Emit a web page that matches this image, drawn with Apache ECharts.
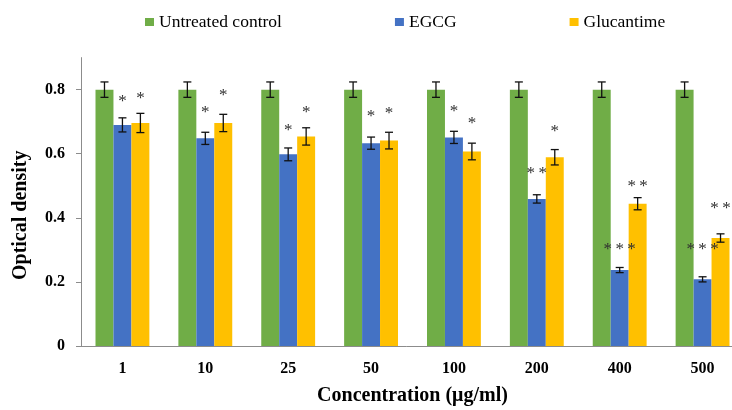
<!DOCTYPE html>
<html>
<head>
<meta charset="utf-8">
<script src="https://cdn.jsdelivr.net/npm/echarts@6/dist/echarts.min.js"></script>
<style>
html,body{margin:0;padding:0;background:#fff;}
#chart{width:732px;height:410px;}
</style>
</head>
<body>
<div id="chart"></div>
<script>
const categories = ['1', '10', '25', '50', '100', '200', '400', '500'];
const seriesNames = ['Untreated control', 'EGCG', 'Glucantime'];
const controlValues = [0.8, 0.8, 0.8, 0.8, 0.8, 0.8, 0.8, 0.8];
const controlErr = [0.024, 0.024, 0.024, 0.024, 0.024, 0.024, 0.024, 0.024];
const egcgValues = [0.69, 0.648, 0.598, 0.633, 0.651, 0.459, 0.237, 0.208];
const egcgErr = [0.022, 0.019, 0.02, 0.019, 0.019, 0.013, 0.008, 0.008];
const glucValues = [0.696, 0.696, 0.654, 0.641, 0.607, 0.589, 0.444, 0.337];
const glucErr = [0.03, 0.027, 0.027, 0.026, 0.026, 0.024, 0.019, 0.013];
const egcgMarks = ['*', '*', '*', '*', '*', '**', '***', '***'];
const glucMarks = ['*', '*', '*', '*', '*', '*', '**', '**'];
const egcgMarkY = [0.773, 0.738, 0.683, 0.727, 0.742, 0.548, 0.311, 0.311];
const glucMarkY = [0.783, 0.790, 0.739, 0.735, 0.703, 0.680, 0.508, 0.437];
const yTicks = [0, 0.2, 0.4, 0.6, 0.8];

const colors = ['#70AD47', '#4472C4', '#FFC000'];
const CAT_GAP = 0.35;
const serif = '"Liberation Serif", "Times New Roman", serif';

function barOffset(api, k) {
  const band = api.size([1, 0])[0];
  const bw = band * (1 - CAT_GAP) / 3;
  return k * bw;
}

function errorSeries(values, errs, k) {
  return {
    type: 'custom',
    silent: true,
    z: 10,
    renderItem: function (params, api) {
      const i = api.value(0);
      const v = api.value(1);
      const e = api.value(2);
      const x = api.coord([i, v])[0] + barOffset(api, k);
      const hi = api.coord([i, v + e])[1];
      const lo = api.coord([i, v - e])[1];
      const w = 4;
      const st = { stroke: '#111', lineWidth: 1.3 };
      return {
        type: 'group',
        children: [
          { type: 'line', shape: { x1: x, y1: hi, x2: x, y2: lo }, style: st },
          { type: 'line', shape: { x1: x - w, y1: hi, x2: x + w, y2: hi }, style: st },
          { type: 'line', shape: { x1: x - w, y1: lo, x2: x + w, y2: lo }, style: st }
        ]
      };
    },
    data: values.map(function (v, i) { return [i, v, errs[i]]; })
  };
}

function markSeries(marks, ys, k) {
  return {
    type: 'custom',
    silent: true,
    z: 11,
    renderItem: function (params, api) {
      const i = api.value(0);
      const p = api.coord([i, api.value(1)]);
      const x = p[0] + barOffset(api, k);
      return {
        type: 'text',
        style: {
          x: x,
          y: p[1] + 3,
          text: marks[params.dataIndex].split('').join('\u2009'),
          font: '17px ' + serif,
          fill: '#303030',
          textAlign: 'center',
          textVerticalAlign: 'middle'
        }
      };
    },
    data: ys.map(function (v, i) { return [i, v]; })
  };
}

const chart = echarts.init(document.getElementById('chart'), null, { renderer: 'canvas' });
chart.setOption({
  animation: false,
  backgroundColor: '#fff',
  color: colors,
  legend: {
    data: seriesNames,
    left: 140,
    top: 8,
    itemWidth: 9,
    itemHeight: 8,
    itemGap: 113,
    icon: 'rect',
    textStyle: { fontFamily: serif, fontSize: 17.5, color: '#000' }
  },
  grid: { left: 81, right: -12, top: 57.6, bottom: 64, containLabel: false, outerBoundsMode: 'none' },
  xAxis: {
    type: 'category',
    data: categories,
    axisLine: { lineStyle: { color: '#8c8c8c', width: 1 } },
    axisTick: { length: 5, lineStyle: { color: '#8c8c8c' } },
    axisLabel: { margin: 15, fontFamily: serif, fontSize: 16, fontWeight: 'bold', color: '#000' },
    name: 'Concentration (\u03bcg/ml)',
    nameLocation: 'middle',
    nameGap: 40,
    nameTextStyle: { fontFamily: serif, fontSize: 20, fontWeight: 'bold', color: '#000' }
  },
  yAxis: {
    type: 'value',
    min: 0,
    max: 0.9,
    interval: 0.2,
    splitLine: { show: false },
    axisLine: { show: true, lineStyle: { color: '#8c8c8c', width: 1 } },
    axisTick: { show: true, length: 5, customValues: yTicks, lineStyle: { color: '#8c8c8c' } },
    axisLabel: { margin: 16, customValues: yTicks, fontFamily: serif, fontSize: 16, fontWeight: 'bold', color: '#000' },
    name: 'Optical density',
    nameLocation: 'middle',
    nameGap: 50,
    nameTextStyle: { fontFamily: serif, fontSize: 20, fontWeight: 'bold', color: '#000', padding: [0, 27, 0, 0] }
  },
  series: [
    { name: seriesNames[0], type: 'bar', data: controlValues, barGap: '0%', barCategoryGap: '35%' },
    { name: seriesNames[1], type: 'bar', data: egcgValues, barGap: '0%', barCategoryGap: '35%' },
    { name: seriesNames[2], type: 'bar', data: glucValues, barGap: '0%', barCategoryGap: '35%' },
    errorSeries(controlValues, controlErr, -1),
    errorSeries(egcgValues, egcgErr, 0),
    errorSeries(glucValues, glucErr, 1),
    markSeries(egcgMarks, egcgMarkY, 0),
    markSeries(glucMarks, glucMarkY, 1)
  ]
});
</script>
</body>
</html>
